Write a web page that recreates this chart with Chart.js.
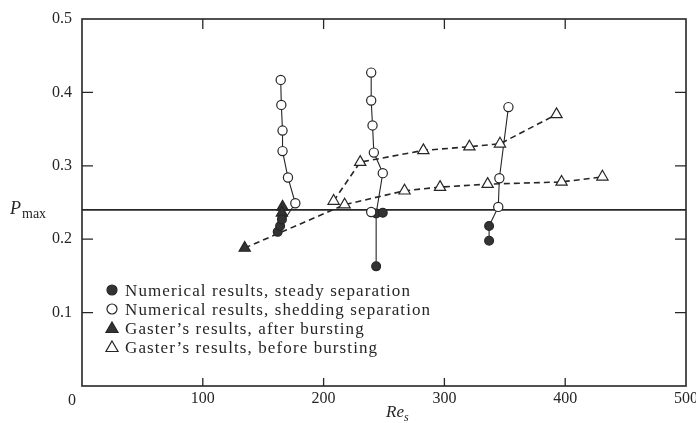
<!DOCTYPE html>
<html>
<head>
<meta charset="utf-8">
<script src="https://cdn.jsdelivr.net/npm/chart.js@4.4.1/dist/chart.umd.min.js"></script>
<style>
    html, body { margin: 0; padding: 0; background: #fff; }
    #wrap { width: 696px; height: 423px; }
</style>
</head>
<body>
<div id="wrap"><canvas id="chart" width="696" height="423"></canvas></div>
<script>
// axis ticks
const xTicks = [0, 100, 200, 300, 400, 500];
const yTicks = [0, 0.1, 0.2, 0.3, 0.4, 0.5];

// numerical results, steady separation (filled circles)
const steadyRe = [162, 164, 165.5, 243.5, 243.5, 249, 337, 337];
const steadyP = [0.210, 0.218, 0.227, 0.163, 0.235, 0.236, 0.218, 0.198];

// numerical results, shedding separation (open circles)
const sheddingRe = [164.5, 165, 166, 166, 170.5, 176.6, 239.4, 239.4, 240.5, 241.6, 249, 239.4, 353, 345.5, 344.6];
const sheddingP = [0.417, 0.383, 0.348, 0.320, 0.284, 0.249, 0.427, 0.389, 0.355, 0.318, 0.290, 0.237, 0.380, 0.283, 0.244];

// Gaster's results, after bursting (filled triangles)
const afterRe = [134.7, 166, 165.5];
const afterP = [0.188, 0.244, 0.236];

// Gaster's results, before bursting (open triangles)
const beforeRe = [208.3, 230.3, 282.6, 320.7, 346, 392.8, 217.4, 267, 296.4, 335.8, 397, 430.8];
const beforeP = [0.252, 0.305, 0.321, 0.326, 0.330, 0.370, 0.247, 0.266, 0.271, 0.275, 0.278, 0.285];

// solid curves joining the numerical results
const col1Re = [164.5, 165, 166, 166, 170.5, 176.6, 165];
const col1P = [0.417, 0.383, 0.348, 0.320, 0.284, 0.249, 0.220];
const col2Re = [239.4, 239.4, 240.5, 241.6, 249, 243.5, 243.5];
const col2P = [0.427, 0.389, 0.355, 0.318, 0.290, 0.235, 0.163];
const col3Re = [353, 345.5, 344.6, 337, 337];
const col3P = [0.380, 0.283, 0.244, 0.218, 0.198];

// dashed curves through Gaster's results
const upperRe = [208.3, 230.3, 282.6, 320.7, 346, 392.8];
const upperP = [0.252, 0.305, 0.321, 0.326, 0.330, 0.370];
const lowerRe = [134.7, 217.4, 267, 296.4, 335.8, 397, 430.8];
const lowerP = [0.188, 0.247, 0.266, 0.271, 0.275, 0.278, 0.285];

// horizontal reference level
const refRe = [0, 500];
const refP = [0.24, 0.24];

const legendLabels = [
    'Numerical results, steady separation',
    'Numerical results, shedding separation',
    'Gaster\u2019s results, after bursting',
    'Gaster\u2019s results, before bursting'
];

const INK = '#262626';
const SERIF = '"Liberation Serif", "DejaVu Serif", serif';

const zip = (xs, ys) => xs.map((x, i) => ({ x, y: ys[i] }));

function lineSet(xs, ys, width, dash) {
    return {
        data: zip(xs, ys),
        showLine: true,
        borderColor: INK,
        borderWidth: width,
        borderDash: dash || [],
        pointRadius: 0,
        pointHoverRadius: 0,
        order: 10
    };
}

function markerSet(xs, ys, style, filled, r) {
    return {
        data: zip(xs, ys),
        showLine: false,
        pointStyle: style,
        pointRadius: r,
        pointHoverRadius: r,
        pointBorderWidth: 1.2,
        pointBorderColor: INK,
        pointBackgroundColor: filled ? '#333' : '#fff',
        order: 1
    };
}

function drawMarker(ctx, style, filled, x, y, r) {
    ctx.beginPath();
    if (style === 'circle') {
        ctx.arc(x, y, r, 0, Math.PI * 2);
    } else {
        ctx.moveTo(x, y - r);
        ctx.lineTo(x + r * 0.866, y + r * 0.5);
        ctx.lineTo(x - r * 0.866, y + r * 0.5);
        ctx.closePath();
    }
    ctx.fillStyle = filled ? '#333' : '#fff';
    ctx.fill();
    ctx.lineWidth = 1.2;
    ctx.strokeStyle = INK;
    ctx.stroke();
}

const framePlugin = {
    id: 'frame',
    afterDatasetsDraw(chart) {
        const { ctx, chartArea: a, scales: { x, y } } = chart;
        ctx.save();
        ctx.strokeStyle = INK;
        ctx.lineWidth = 1.6;
        ctx.strokeRect(a.left, a.top, a.right - a.left, a.bottom - a.top);
        ctx.lineWidth = 1.3;
        ctx.beginPath();
        xTicks.slice(1, -1).forEach(v => {
            const px = x.getPixelForValue(v);
            ctx.moveTo(px, a.bottom); ctx.lineTo(px, a.bottom - 8);
            ctx.moveTo(px, a.top); ctx.lineTo(px, a.top + 10);
        });
        yTicks.slice(1, -1).forEach(v => {
            const py = y.getPixelForValue(v);
            ctx.moveTo(a.left, py); ctx.lineTo(a.left + 11, py);
            ctx.moveTo(a.right, py); ctx.lineTo(a.right - 11, py);
        });
        ctx.stroke();
        ctx.restore();
    },
    afterDraw(chart) {
        const { ctx } = chart;
        ctx.save();
        ctx.fillStyle = INK;
        ctx.textBaseline = 'alphabetic';

        // shared origin label
        ctx.font = '16px ' + SERIF;
        ctx.textAlign = 'center';
        ctx.fillText('0', 72, 405);

        // axis titles
        ctx.textAlign = 'left';
        ctx.font = 'italic 18px ' + SERIF;
        ctx.fillText('P', 10, 214);
        ctx.font = '14px ' + SERIF;
        ctx.fillText('max', 22, 218);
        ctx.font = 'italic 17px ' + SERIF;
        ctx.fillText('Re', 386, 417);
        ctx.font = 'italic 12px ' + SERIF;
        ctx.fillText('s', 404, 421);

        // legend
        const styles = [['circle', true], ['circle', false], ['triangle', true], ['triangle', false]];
        ctx.font = '17px ' + SERIF;
        ctx.letterSpacing = '1.1px';
        legendLabels.forEach((label, i) => {
            const cy = 290 + i * 19;
            const [st, filled] = styles[i];
            drawMarker(ctx, st, filled, 112, st === 'circle' ? cy : cy + 1, st === 'circle' ? 5 : 7);
            ctx.fillStyle = INK;
            ctx.fillText(label, 125, cy + 6);
        });
        ctx.restore();
    }
};

new Chart(document.getElementById('chart'), {
    type: 'scatter',
    data: {
        datasets: [
            lineSet(refRe, refP, 1.6),
            lineSet(col1Re, col1P, 1.1),
            lineSet(col2Re, col2P, 1.1),
            lineSet(col3Re, col3P, 1.1),
            lineSet(upperRe, upperP, 1.6, [6, 4]),
            lineSet(lowerRe, lowerP, 1.6, [6, 4]),
            markerSet(sheddingRe, sheddingP, 'circle', false, 4.6),
            markerSet(steadyRe, steadyP, 'circle', true, 4.4),
            markerSet(beforeRe, beforeP, 'triangle', false, 6.5),
            markerSet(afterRe, afterP, 'triangle', true, 6.5)
        ]
    },
    options: {
        responsive: false,
        animation: false,
        layout: { padding: { top: 19, right: 10, left: 0, bottom: 0 } },
        plugins: { legend: { display: false }, tooltip: { enabled: false } },
        scales: {
            x: {
                type: 'linear',
                min: 0, max: 500,
                grid: { display: false, drawTicks: false },
                border: { display: false },
                afterBuildTicks: s => { s.ticks = xTicks.map(v => ({ value: v })); },
                afterFit: s => { s.height = 37; s.paddingLeft = 0; s.paddingRight = 0; },
                ticks: {
                    padding: 3,
                    maxRotation: 0,
                    color: INK,
                    font: { family: SERIF, size: 16 },
                    callback: v => v === 0 ? '' : String(v)
                }
            },
            y: {
                type: 'linear',
                min: 0, max: 0.5,
                grid: { display: false, drawTicks: false },
                border: { display: false },
                afterBuildTicks: s => { s.ticks = yTicks.map(v => ({ value: v })); },
                afterFit: s => { s.width = 82; s.paddingTop = 0; s.paddingBottom = 0; },
                ticks: {
                    padding: 10,
                    color: INK,
                    font: { family: SERIF, size: 16 },
                    callback: v => v === 0 ? '' : v.toFixed(1)
                }
            }
        }
    },
    plugins: [framePlugin]
});
</script>
</body>
</html>
